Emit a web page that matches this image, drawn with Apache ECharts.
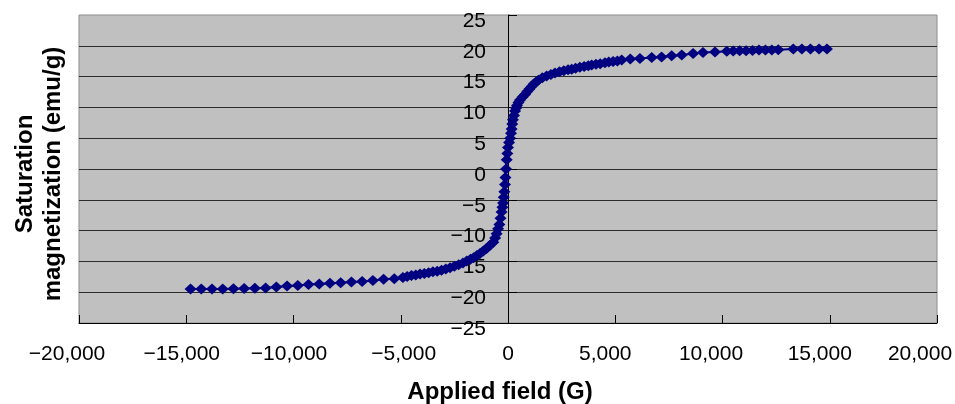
<!DOCTYPE html>
<html>
<head>
<meta charset="utf-8">
<script src="https://cdn.jsdelivr.net/npm/echarts@6/dist/echarts.min.js"></script>
<style>
html,body{margin:0;padding:0;background:#fff;}
#chart{width:955px;height:404px;}
</style>
</head>
<body>
<div id="chart"></div>
<script>
// Applied field (G)
const fieldG = [
  -14800, -14300, -13800, -13300, -12800, -12300, -11800, -11300, -10800, -10300,
  -9800, -9300, -8800, -8300, -7800, -7300, -6800, -6300, -5800, -5300,
  -4900, -4700, -4500, -4300, -4100, -3900, -3700, -3500, -3300, -3100,
  -2900, -2700, -2500, -2300, -2100, -1925, -1750, -1600, -1450, -1305,
  -1150, -1000, -850, -685, -600, -530, -460, -400, -350, -300,
  -260, -230, -200, -170, -140, -120, -90, -60, -30, 0,
  50, 100, 140, 170, 200, 230, 280, 330, 380, 420,
  490, 560, 680, 793, 900, 1000, 1100, 1200, 1300, 1414,
  1600, 1800, 2000, 2190, 2400, 2600, 2800, 2970, 3150, 3350,
  3550, 3745, 3900, 4100, 4300, 4520, 4700, 4900, 5100, 5300,
  5700, 6150, 6700, 7160, 7630, 8100, 8630, 9090, 9650, 10200,
  10500, 10800, 11100, 11400, 11700, 12000, 12300, 12600, 13300, 13700,
  14100, 14500, 14870
];
// Saturation magnetization (emu/g)
const magnetization = [
  -19.5, -19.5, -19.5, -19.5, -19.45, -19.4, -19.35, -19.3, -19.15, -19.0,
  -18.9, -18.75, -18.65, -18.55, -18.45, -18.35, -18.25, -18.1, -17.9, -17.8,
  -17.6, -17.45, -17.3, -17.2, -17.05, -16.95, -16.85, -16.7, -16.6, -16.45,
  -16.25, -16.05, -15.8, -15.55, -15.25, -14.95, -14.65, -14.4, -14.05, -13.7,
  -13.3, -12.9, -12.4, -11.9, -11.2, -10.5, -9.7, -9.0, -8.0, -7.0,
  -6.2, -5.5, -4.6, -3.7, -2.5, -1.4, 0.0, 1.5, 2.5, 3.5,
  4.3, 5.0, 5.8, 6.5, 7.3, 8.0, 8.7, 9.4, 9.9, 10.3,
  10.8, 11.2, 11.7, 12.1, 12.6, 13.0, 13.4, 13.8, 14.1, 14.4,
  14.8, 15.1, 15.35, 15.6, 15.8, 15.95, 16.1, 16.2, 16.35, 16.5,
  16.65, 16.75, 16.9, 17.0, 17.1, 17.25, 17.35, 17.45, 17.55, 17.7,
  17.85, 17.95, 18.1, 18.2, 18.4, 18.5, 18.75, 18.9, 19.0, 19.1,
  19.15, 19.2, 19.2, 19.25, 19.3, 19.3, 19.3, 19.35, 19.5, 19.5,
  19.5, 19.5, 19.5
];
const xTicks = [-20000, -15000, -10000, -5000, 0, 5000, 10000, 15000, 20000];
const yTicks = [-25, -20, -15, -10, -5, 0, 5, 10, 15, 20, 25];
const xTitle = 'Applied field (G)';
const yTitle = 'Saturation\nmagnetization (emu/g)';

const FONT = 'Liberation Sans, Arial, sans-serif';
function fmtNum(v) {
  const s = Math.abs(v).toLocaleString('en-US');
  return v < 0 ? '\u2212' + s : s;
}
// label nudges (style names only)
const xLabelStyle = {'-20000':'a','-15000':'b','-10000':'b','-5000':'c','0':'z','5000':'d','10000':'e','15000':'d','20000':'f'};

const yMin = yTicks[0], yMax = yTicks[yTicks.length - 1];

const chart = echarts.init(document.getElementById('chart'));
chart.setOption({
  animation: false,
  backgroundColor: '#ffffff',
  grid: {
    left: 79, right: 18, top: 15, bottom: 81,
    containLabel: false,
    outerBoundsMode: 'none',
    show: true, backgroundColor: '#C0C0C0', borderColor: '#8c8c8c', borderWidth: 1
  },
  graphic: [{
    type: 'text',
    x: 39, y: 174,
    rotation: Math.PI / 2,
    style: {
      text: yTitle,
      align: 'center', verticalAlign: 'middle',
      fontFamily: FONT, fontSize: 24, fontWeight: 'bold', fill: '#000', lineHeight: 28
    }
  }],
  xAxis: {
    type: 'value',
    min: xTicks[0], max: xTicks[xTicks.length - 1], interval: 5000,
    axisLine: { onZero: false, lineStyle: { color: '#000', width: 1 } },
    axisTick: { inside: true, length: 8, lineStyle: { color: '#000' } },
    splitLine: { show: false },
    axisLabel: {
      margin: 21, color: '#000', fontFamily: FONT, fontSize: 21,
      showMinLabel: true, showMaxLabel: true, hideOverlap: false,
      formatter: v => '{' + (xLabelStyle[String(v)] || 'z') + '|' + fmtNum(v) + '}',
      rich: {
        a: { fontFamily: FONT, fontSize: 21, color: '#000', padding: [0, 24, 0, 0] },
        b: { fontFamily: FONT, fontSize: 21, color: '#000', padding: [0, 9, 0, 0] },
        c: { fontFamily: FONT, fontSize: 21, color: '#000', padding: [0, 0, 0, 6] },
        d: { fontFamily: FONT, fontSize: 21, color: '#000', padding: [0, 20, 0, 0] },
        e: { fontFamily: FONT, fontSize: 21, color: '#000', padding: [0, 23, 0, 0] },
        f: { fontFamily: FONT, fontSize: 21, color: '#000', padding: [0, 34, 0, 0] },
        z: { fontFamily: FONT, fontSize: 21, color: '#000' }
      }
    },
    name: xTitle,
    nameLocation: 'middle',
    nameGap: 57,
    nameTextStyle: { fontFamily: FONT, fontSize: 24, fontWeight: 'bold', color: '#000', padding: [0, 16, 0, 0] }
  },
  yAxis: [{
    type: 'value', position: 'left',
    min: yMin, max: yMax, interval: 5,
    axisLine: { onZero: true, lineStyle: { color: '#000', width: 1 } },
    axisTick: { inside: true, length: 9, lineStyle: { color: '#000' } },
    splitLine: { show: true, showMaxLine: false, showMinLine: false, lineStyle: { color: '#2b2b2b', width: 1 } },
    axisLabel: { show: false }
  }, {
    type: 'value', position: 'left',
    min: yMin, max: yMax, interval: 5,
    axisLine: { show: false, onZero: false },
    axisTick: { show: false },
    splitLine: { show: false },
    axisLabel: {
      margin: -407, color: '#000', fontFamily: FONT, fontSize: 21,
      showMinLabel: true, showMaxLabel: true, hideOverlap: false,
      formatter: v => '{s|' + fmtNum(v) + '}',
      rich: {
        s: { fontFamily: FONT, fontSize: 21, color: '#000', padding: [12, 0, 0, 0] }
      }
    }
  }],
  series: [{
    type: 'line',
    yAxisIndex: 0,
    data: fieldG.map((x, i) => [x, magnetization[i]]),
    symbol: 'diamond',
    symbolSize: [12, 11],
    showAllSymbol: true,
    lineStyle: { color: '#000080', width: 2 },
    itemStyle: { color: '#000080' },
    z: 3
  }]
});
</script>
</body>
</html>
